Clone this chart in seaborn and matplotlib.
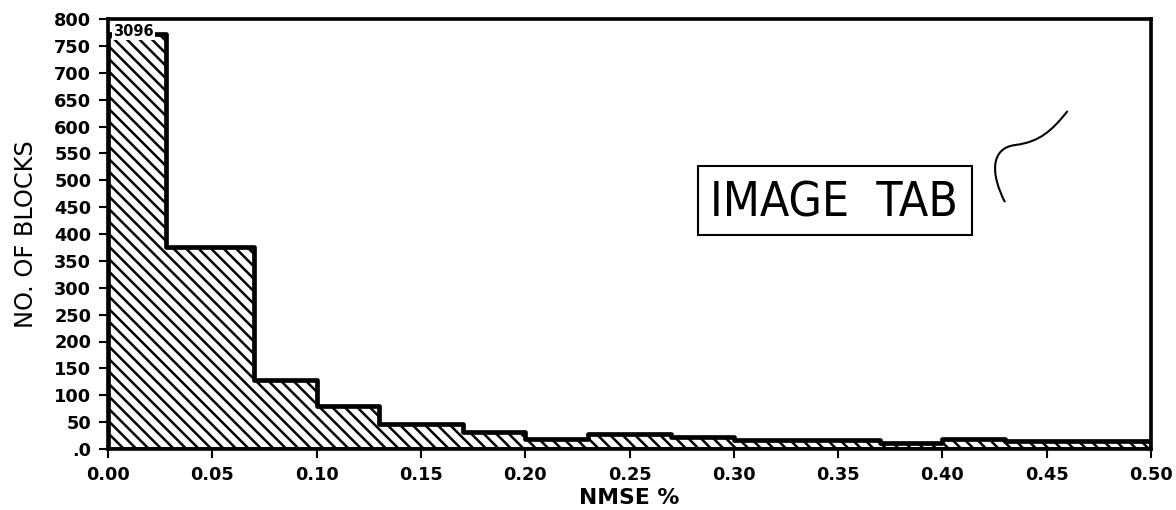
import numpy as np
import seaborn as sns
import matplotlib.pyplot as plt
from matplotlib import font_manager
from matplotlib.patches import Rectangle, PathPatch
from matplotlib.path import Path

# histogram data
bin_edges = [0.0, 0.028, 0.07, 0.10, 0.13, 0.17, 0.20, 0.23, 0.27, 0.30, 0.37, 0.40, 0.43, 0.50]
block_counts = [3096, 375, 128, 80, 46, 32, 18, 28, 22, 17, 11, 19, 14]
y_ticks = list(range(0, 801, 50))
y_tick_labels = ['.0'] + [str(v) for v in y_ticks[1:]]
x_ticks = [0.0, 0.05, 0.10, 0.15, 0.20, 0.25, 0.30, 0.35, 0.40, 0.45, 0.50]
x_tick_labels = ['%.2f' % v for v in x_ticks]

# first bar is off the scale, drawn clipped with its count written in
clip_value = 772

sns.set_style('white')
plt.rcParams['font.family'] = ['DejaVu Sans']
plt.rcParams['hatch.linewidth'] = 2.4
plt.rcParams['hatch.color'] = 'black'
for key in ['text.color', 'axes.labelcolor', 'xtick.color', 'ytick.color']:
    plt.rcParams[key] = 'black'

# pick a narrow face for the boxed label if one is installed
fonts = font_manager.fontManager.ttflist
names = {f.name for f in fonts}
box_font = dict(family=['DejaVu Sans'], fontsize=36)
if 'Liberation Sans Narrow' in names:
    box_font = dict(family=['Liberation Sans Narrow'], fontsize=54)
elif any(f.name == 'DejaVu Sans' and f.stretch == 'condensed' for f in fonts):
    box_font = dict(family=['DejaVu Sans'], fontstretch='condensed', fontsize=46)
elif 'Roboto Condensed' in names:
    box_font = dict(family=['Roboto Condensed'], fontsize=52)

centers = [(a + b) / 2 for a, b in zip(bin_edges[:-1], bin_edges[1:])]
shown = np.minimum(block_counts, clip_value)

fig = plt.figure(figsize=(15.68, 6.8), dpi=75)
ax = fig.add_axes([108 / 1176, 61 / 510, 1043 / 1176, 430 / 510])

sns.histplot(x=centers, weights=shown, bins=bin_edges, element='step', fill=True,
             color='white', edgecolor='black', linewidth=4.5, alpha=1, ax=ax)
for coll in ax.collections:
    coll.set_hatch('\\\\')
    coll.set_facecolor('white')
    coll.set_edgecolor('black')

ax.text(bin_edges[0] + 0.0025, clip_value + 4, str(block_counts[0]),
        fontsize=14, fontweight='bold', va='center', ha='left',
        bbox=dict(facecolor='white', edgecolor='none', pad=1))

ax.set_xlim(0, 0.5)
ax.set_ylim(0, 800)
ax.set_xticks(x_ticks)
ax.set_xticklabels(x_tick_labels)
ax.set_yticks(y_ticks)
ax.set_yticklabels(y_tick_labels)
ax.tick_params(axis='both', direction='out', length=9, width=2, pad=7,
               labelsize=17)
for lbl in ax.get_xticklabels() + ax.get_yticklabels():
    lbl.set_fontweight('bold')
ax.tick_params(left=True, bottom=True)

for side in ['left', 'right', 'top', 'bottom']:
    ax.spines[side].set_visible(True)
    ax.spines[side].set_color('black')
    ax.spines[side].set_linewidth(3.5)

ax.set_xlabel('NMSE %', fontsize=21, fontweight='bold', labelpad=4)
ax.set_ylabel('NO. OF BLOCKS', fontsize=23, labelpad=16)

# boxed label
ax.add_patch(Rectangle((0.5657, 0.4977), 0.2627, 0.1605, transform=ax.transAxes,
                       fill=False, edgecolor='black', linewidth=2))
ax.text(0.6956, 0.541, 'IMAGE  TAB', transform=ax.transAxes, ha='center',
        va='baseline', **box_font)

# hand drawn stroke next to the box
stroke = Path([(0.860, 0.574), (0.846, 0.640), (0.846, 0.700), (0.870, 0.707),
               (0.893, 0.714), (0.905, 0.740), (0.920, 0.786)],
              [Path.MOVETO] + [Path.CURVE4] * 6)
ax.add_patch(PathPatch(stroke, transform=ax.transAxes, fill=False,
                       edgecolor='black', linewidth=2))

fig.savefig('out.png', dpi=75)
